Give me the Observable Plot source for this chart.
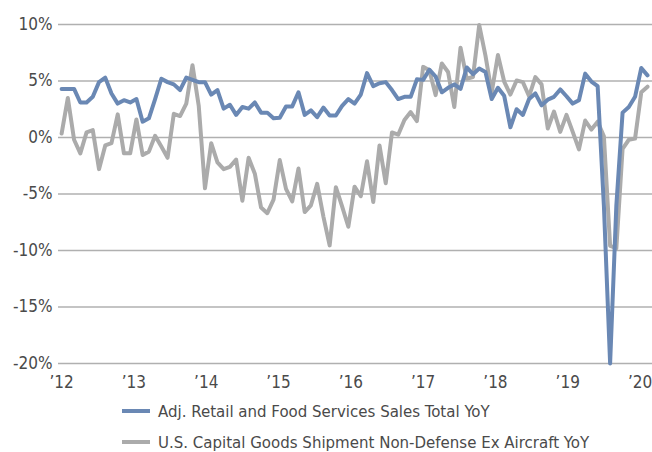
<!DOCTYPE html>
<html><head><meta charset="utf-8">
<script src="https://cdn.jsdelivr.net/npm/d3@7"></script>
<script src="https://cdn.jsdelivr.net/npm/@observablehq/plot@0.6"></script>
<style>
body{margin:0;background:#fff;font-family:"Liberation Sans Narrow","DejaVu Sans Condensed",sans-serif;}
#legend{padding-left:122px;color:#4a4a4a;font-size:16.7px;}
.row{display:flex;align-items:center;height:31px;white-space:nowrap;}
.sw{width:28px;height:4px;margin-right:8px;flex:none;}
</style></head><body>
<div id="chart"></div>
<div id="legend"></div>
<script>
const yearLabels = ["\u201912","\u201913","\u201914","\u201915","\u201916","\u201917","\u201918","\u201919","\u201920"];
const yTicks = [-20, -15, -10, -5, 0, 5, 10];
const retail = [
 4.3, 4.3, 4.3, 3.1, 3.1, 3.6, 4.9, 5.3, 3.9, 3.0,
 3.3, 3.1, 3.4, 1.4, 1.7, 3.4, 5.2, 4.9, 4.7, 4.2,
 5.3, 5.1, 4.9, 4.9, 3.8, 4.2, 2.55, 2.9, 2.0, 2.7,
 2.55, 3.1, 2.2, 2.2, 1.7, 1.75, 2.75, 2.75, 4.0, 2.0,
 2.4, 1.8, 2.65, 1.95, 1.95, 2.8, 3.4, 3.0, 3.8, 5.7,
 4.55, 4.8, 4.9, 4.2, 3.4, 3.6, 3.6, 5.15, 5.1, 6.0,
 5.4, 4.0, 4.4, 4.7, 4.3, 6.2, 5.6, 6.1, 5.8, 3.4,
 4.4, 3.7, 0.9, 2.5, 2.0, 3.4, 3.9, 2.85, 3.35, 3.6,
 4.25, 3.65, 3.0, 3.3, 5.65, 4.95, 4.55, -6.0, -20.0, -6.0,
 2.2, 2.7, 3.6, 6.15, 5.5
];
const capex = [
 0.35, 3.5, -0.2, -1.4, 0.45, 0.65, -2.8, -0.7, -0.5, 2.05,
 -1.4, -1.4, 1.6, -1.55, -1.25, 0.15, -0.8, -1.8, 2.1, 1.9,
 3.0, 6.4, 2.8, -4.5, -0.5, -2.2, -2.8, -2.6, -1.95, -5.6,
 -1.8, -3.2, -6.2, -6.7, -5.5, -2.0, -4.55, -5.65, -2.75, -6.6,
 -6.0, -4.1, -7.0, -9.55, -4.4, -6.1, -7.9, -4.35, -5.2, -2.1,
 -5.7, -0.7, -4.05, 0.45, 0.25, 1.55, 2.25, 1.45, 6.25, 5.95,
 3.75, 6.55, 5.8, 2.7, 7.95, 5.2, 5.35, 9.95, 7.25, 4.0,
 7.3, 4.95, 3.8, 5.05, 4.9, 3.65, 5.35, 4.7, 0.8, 2.3,
 0.5, 2.0, 0.5, -1.05, 1.5, 0.7, 1.4, 0.1, -9.6, -9.8,
 -1.0, -0.2, -0.1, 4.0, 4.5
];
const seriesNames = ["Adj. Retail and Food Services Sales Total YoY", "U.S. Capital Goods Shipment Non-Defense Ex Aircraft YoY"];
const seriesColors = ["#6a88b4", "#ababab"];

const retailRows = retail.map((v, i) => ({i, v}));
const capexRows = capex.map((v, i) => ({i, v}));
const labelStep = 11.6;
const tickPos = yearLabels.map((_, k) => k * labelStep);
const font = '"Liberation Sans Narrow","DejaVu Sans Condensed",sans-serif';

const chart = Plot.plot({
  width: 652, height: 395,
  marginLeft: 58, marginRight: 0, marginTop: 24, marginBottom: 32,
  style: {fontFamily: font, fontSize: "17px", color: "#4a4a4a", background: "#fff"},
  x: {domain: [-0.5, retail.length - 0.2], ticks: tickPos, tickFormat: d => yearLabels[Math.round(d / labelStep)], tickSize: 0, tickPadding: 12, label: null},
  y: {domain: [-20, 10], ticks: yTicks, tickFormat: d => d + "%", tickSize: 0, tickPadding: 6, label: null},
  marks: [
    Plot.ruleY(yTicks, {stroke: "#b0b0b0", strokeWidth: 1.3}),
    Plot.line(capexRows, {x: "i", y: "v", stroke: seriesColors[1], strokeWidth: 4, strokeLinejoin: "round"}),
    Plot.line(retailRows, {x: "i", y: "v", stroke: seriesColors[0], strokeWidth: 4, strokeLinejoin: "round"})
  ]
});
document.getElementById("chart").appendChild(chart);

const legend = document.getElementById("legend");
seriesNames.forEach((name, k) => {
  const row = document.createElement("div");
  row.className = "row";
  const sw = document.createElement("span");
  sw.className = "sw";
  sw.style.background = seriesColors[k];
  const t = document.createElement("span");
  t.textContent = name;
  row.appendChild(sw); row.appendChild(t);
  legend.appendChild(row);
});
</script>
</body></html>
